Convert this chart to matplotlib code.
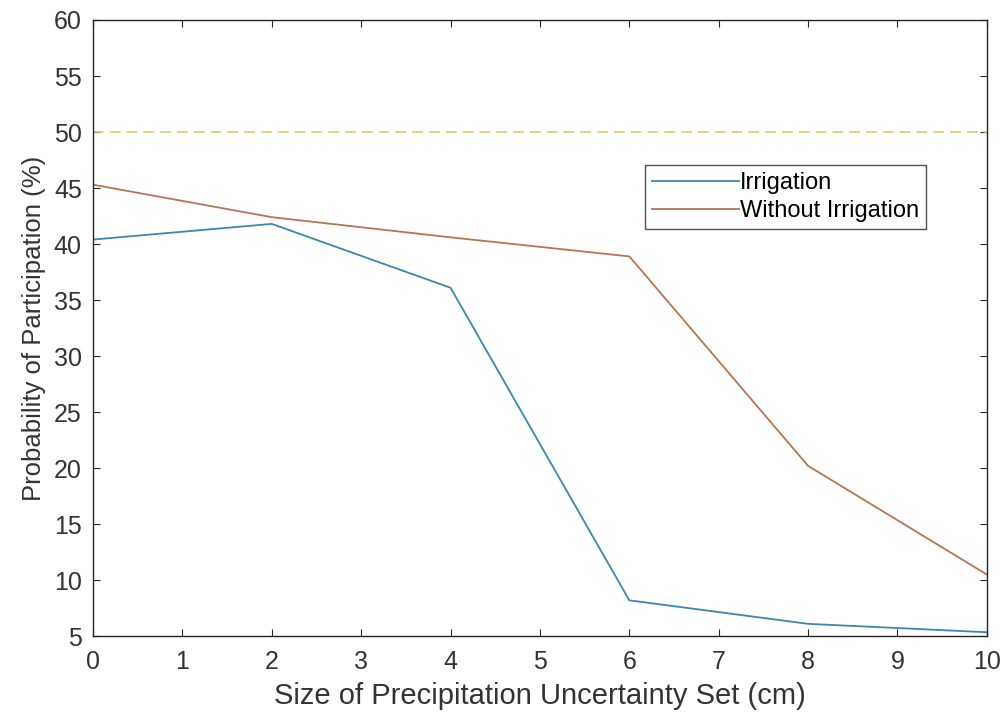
import numpy as np
import matplotlib.pyplot as plt

plt.rcParams['font.family'] = ['Liberation Sans', 'DejaVu Sans']

# 数据
sizes = [0, 2, 4, 6, 8, 10]
irrigation = [40.4, 41.8, 36.1, 8.2, 6.1, 5.35]
without_irrigation = [45.3, 42.4, 40.6, 38.9, 20.2, 10.5]
threshold = 50

x_ticks = list(range(0, 11))
y_ticks = list(range(5, 61, 5))


def main():
    fig = plt.figure(figsize=(10.06, 7.14), dpi=100)
    ax = fig.add_axes([0.0924, 0.109, 0.8886, 0.863])

    ax.plot(sizes, irrigation, color='#3a87b0', lw=1.3, label='Irrigation')
    ax.plot(sizes, without_irrigation, color='#b87452', lw=1.3, label='Without Irrigation')
    ax.axhline(threshold, color='#e8c060', lw=1.1, ls=(0, (7, 4)))

    ax.set_xlim(0, 10)
    ax.set_ylim(5, 60)
    ax.set_xticks(x_ticks)
    ax.set_yticks(y_ticks)
    ax.tick_params(direction='in', top=True, right=True, length=5,
                   labelsize=18, colors='#262626', labelcolor='#333333')
    ax.tick_params(axis='y', pad=8)
    ax.tick_params(axis='x', pad=10)
    for s in ax.spines.values():
        s.set_color('#262626')
        s.set_linewidth(1.0)

    ax.set_xlabel('Size of Precipitation Uncertainty Set (cm)', fontsize=21, color='#333333', labelpad=6)
    ax.set_ylabel('Probability of Participation (%)', fontsize=18.5, color='#333333', labelpad=6)

    leg = ax.legend(loc='upper left', bbox_to_anchor=(0.617, 0.765), fontsize=17,
                    frameon=True, fancybox=False, edgecolor='#262626',
                    handlelength=3.7, handletextpad=0.05, borderpad=0.3,
                    labelspacing=0.25, borderaxespad=0)
    leg.get_frame().set_linewidth(1.0)

    fig.savefig('out.png', dpi=100)


if __name__ == "__main__":
    main()
